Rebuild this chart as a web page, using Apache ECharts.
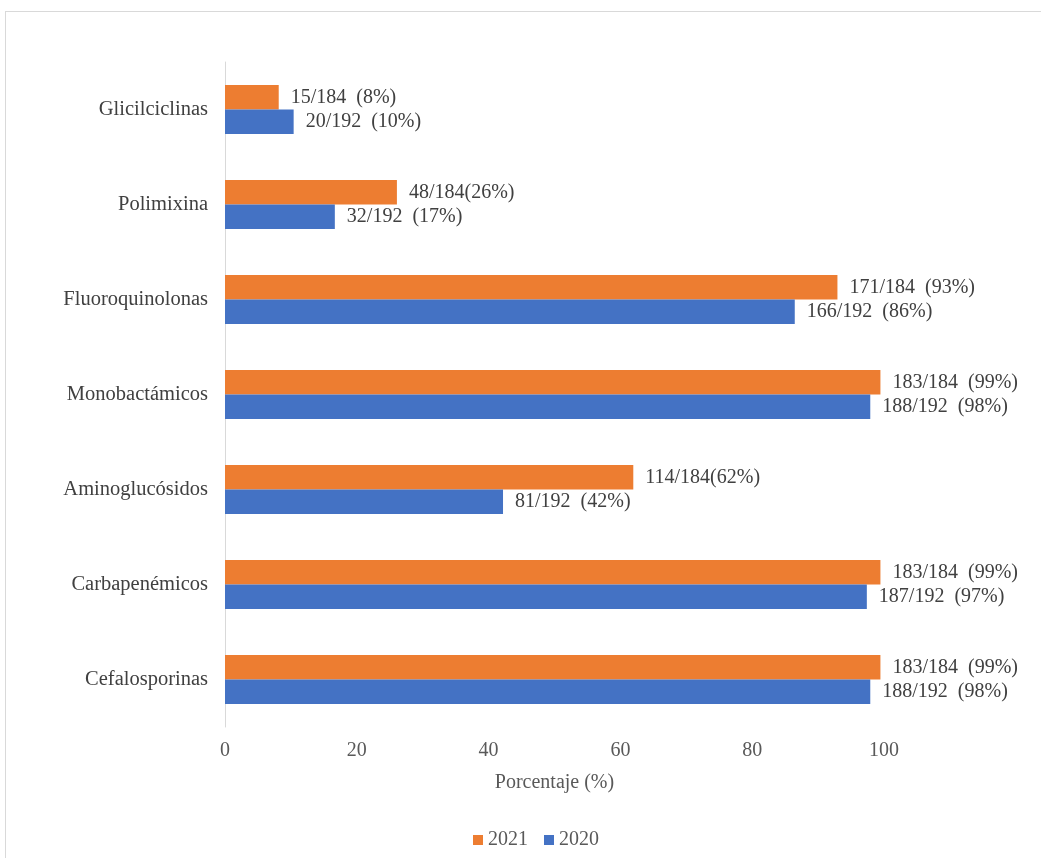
<!DOCTYPE html>
<html>
<head>
<meta charset="utf-8">
<script src="https://cdn.jsdelivr.net/npm/echarts@6/dist/echarts.min.js"></script>
<style>
  html, body { margin: 0; padding: 0; background: #fff; overflow: hidden; }
  #frame { position: absolute; left: 5px; top: 11px; width: 1100px; height: 900px;
           border-left: 1px solid #d9d9d9; border-top: 1px solid #d9d9d9; }
  #chart { position: absolute; left: 0; top: 0; width: 1041px; height: 858px; }
</style>
</head>
<body>
<div id="frame"></div>
<div id="chart"></div>
<script>
// Antibiotic families (bottom to top on the y axis)
const categories = ['Cefalosporinas', 'Carbapenémicos', 'Aminoglucósidos', 'Monobactámicos',
                    'Fluoroquinolonas', 'Polimixina', 'Glicilciclinas'];

// Resistant isolates per year and the totals tested
const resistant2021 = [183, 183, 114, 183, 171, 48, 15];
const total2021 = 184;
const resistant2020 = [188, 187, 81, 188, 166, 32, 20];
const total2020 = 192;

// Bar end labels as written in the figure
const labels2021 = ['183/184  (99%)', '183/184  (99%)', '114/184(62%)', '183/184  (99%)',
                    '171/184  (93%)', '48/184(26%)', '15/184  (8%)'];
const labels2020 = ['188/192  (98%)', '187/192  (97%)', '81/192  (42%)', '188/192  (98%)',
                    '166/192  (86%)', '32/192  (17%)', '20/192  (10%)'];

const xTicks = [0, 20, 40, 60, 80, 100];

const pct2021 = resistant2021.map(n => n / total2021 * 100);
const pct2020 = resistant2020.map(n => n / total2020 * 100);

const FONT = '"Liberation Serif", "Times New Roman", serif';
const TEXT = '#404040';
const AXIS_TEXT = '#595959';

const chart = echarts.init(document.getElementById('chart'), null, { renderer: 'canvas' });

function barSeries(name, values, texts, color) {
  return {
    name: name,
    type: 'bar',
    data: values,
    barWidth: 24.5,
    barGap: '0%',
    itemStyle: { color: color },
    label: {
      show: true,
      position: 'right',
      distance: 12,
      color: TEXT,
      fontFamily: FONT,
      fontSize: 20,
      formatter: p => texts[p.dataIndex]
    }
  };
}

chart.setOption({
  animation: false,
  textStyle: { fontFamily: FONT },
  grid: { left: 225, right: 157, top: 62, bottom: 131, containLabel: false },
  legend: {
    data: ['2021', '2020'],
    bottom: 8,
    left: 473,
    padding: 0,
    itemWidth: 10,
    itemHeight: 10,
    itemGap: 16,
    icon: 'rect',
    textStyle: { fontFamily: FONT, fontSize: 20, color: AXIS_TEXT, padding: [0, 0, 0, 0] }
  },
  xAxis: {
    type: 'value',
    min: xTicks[0],
    max: xTicks[xTicks.length - 1],
    interval: 20,
    name: 'Porcentaje (%)',
    nameLocation: 'middle',
    nameGap: 46,
    nameTextStyle: { fontFamily: FONT, fontSize: 20, color: AXIS_TEXT },
    axisLine: { show: false },
    axisTick: { show: false },
    splitLine: { show: false },
    axisLabel: { fontFamily: FONT, fontSize: 20, color: AXIS_TEXT, margin: 14 }
  },
  yAxis: {
    type: 'category',
    data: categories,
    axisLine: { show: true, lineStyle: { color: '#d9d9d9', width: 1 } },
    axisTick: { show: false },
    axisLabel: { fontFamily: FONT, fontSize: 20.5, color: TEXT, margin: 17 }
  },
  series: [
    barSeries('2021', pct2021, labels2021, '#ED7D31'),
    barSeries('2020', pct2020, labels2020, '#4472C4')
  ]
});
</script>
</body>
</html>
